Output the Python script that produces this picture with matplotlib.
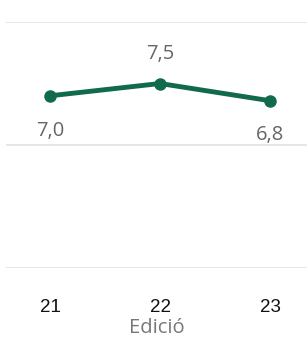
import matplotlib
matplotlib.use("Agg")
import matplotlib.pyplot as plt

# data
edicio = [21, 22, 23]
valors = [7.0, 7.5, 6.8]
etiquetes = ["7,0", "7,5", "6,8"]
posicio = ["below", "above", "below"]

line_color = "#116b4b"
label_color = "#666666"

fig = plt.figure(figsize=(3.07, 3.40), dpi=100)
ax = fig.add_axes([6 / 307, (340 - 268) / 340, 301 / 307, (268 - 22) / 340])

ax.plot(edicio, valors, color=line_color, linewidth=3.5, marker="o",
        markersize=8, solid_capstyle="round", zorder=3)

for x, y, txt, pos in zip(edicio, valors, etiquetes, posicio):
    dy = 21 if pos == "above" else -25
    ax.annotate(txt, (x, y), xytext=(0, dy), textcoords="offset points",
                ha="center", va="center", fontsize=14.5, color=label_color,
                family="Open Sans")

ax.set_ylim(0, 10)
ax.set_xlim(20.6, 23.336)
ax.set_yticks([0, 5, 10])
ax.yaxis.grid(True, color="#e6e6e6", linewidth=1.4)
ax.set_axisbelow(True)
ax.tick_params(axis="y", left=False, labelleft=False)
ax.set_xticks(edicio)
ax.set_xticklabels([str(e) for e in edicio], fontsize=13.5,
                   family="Liberation Sans", color="#111111")
ax.tick_params(axis="x", length=0, pad=22)
for s in ax.spines.values():
    s.set_visible(False)

ax.set_xlabel("Edició", fontsize=14.5, color="#777777", family="Open Sans",
              labelpad=2)

fig.savefig("out.png", dpi=100)
